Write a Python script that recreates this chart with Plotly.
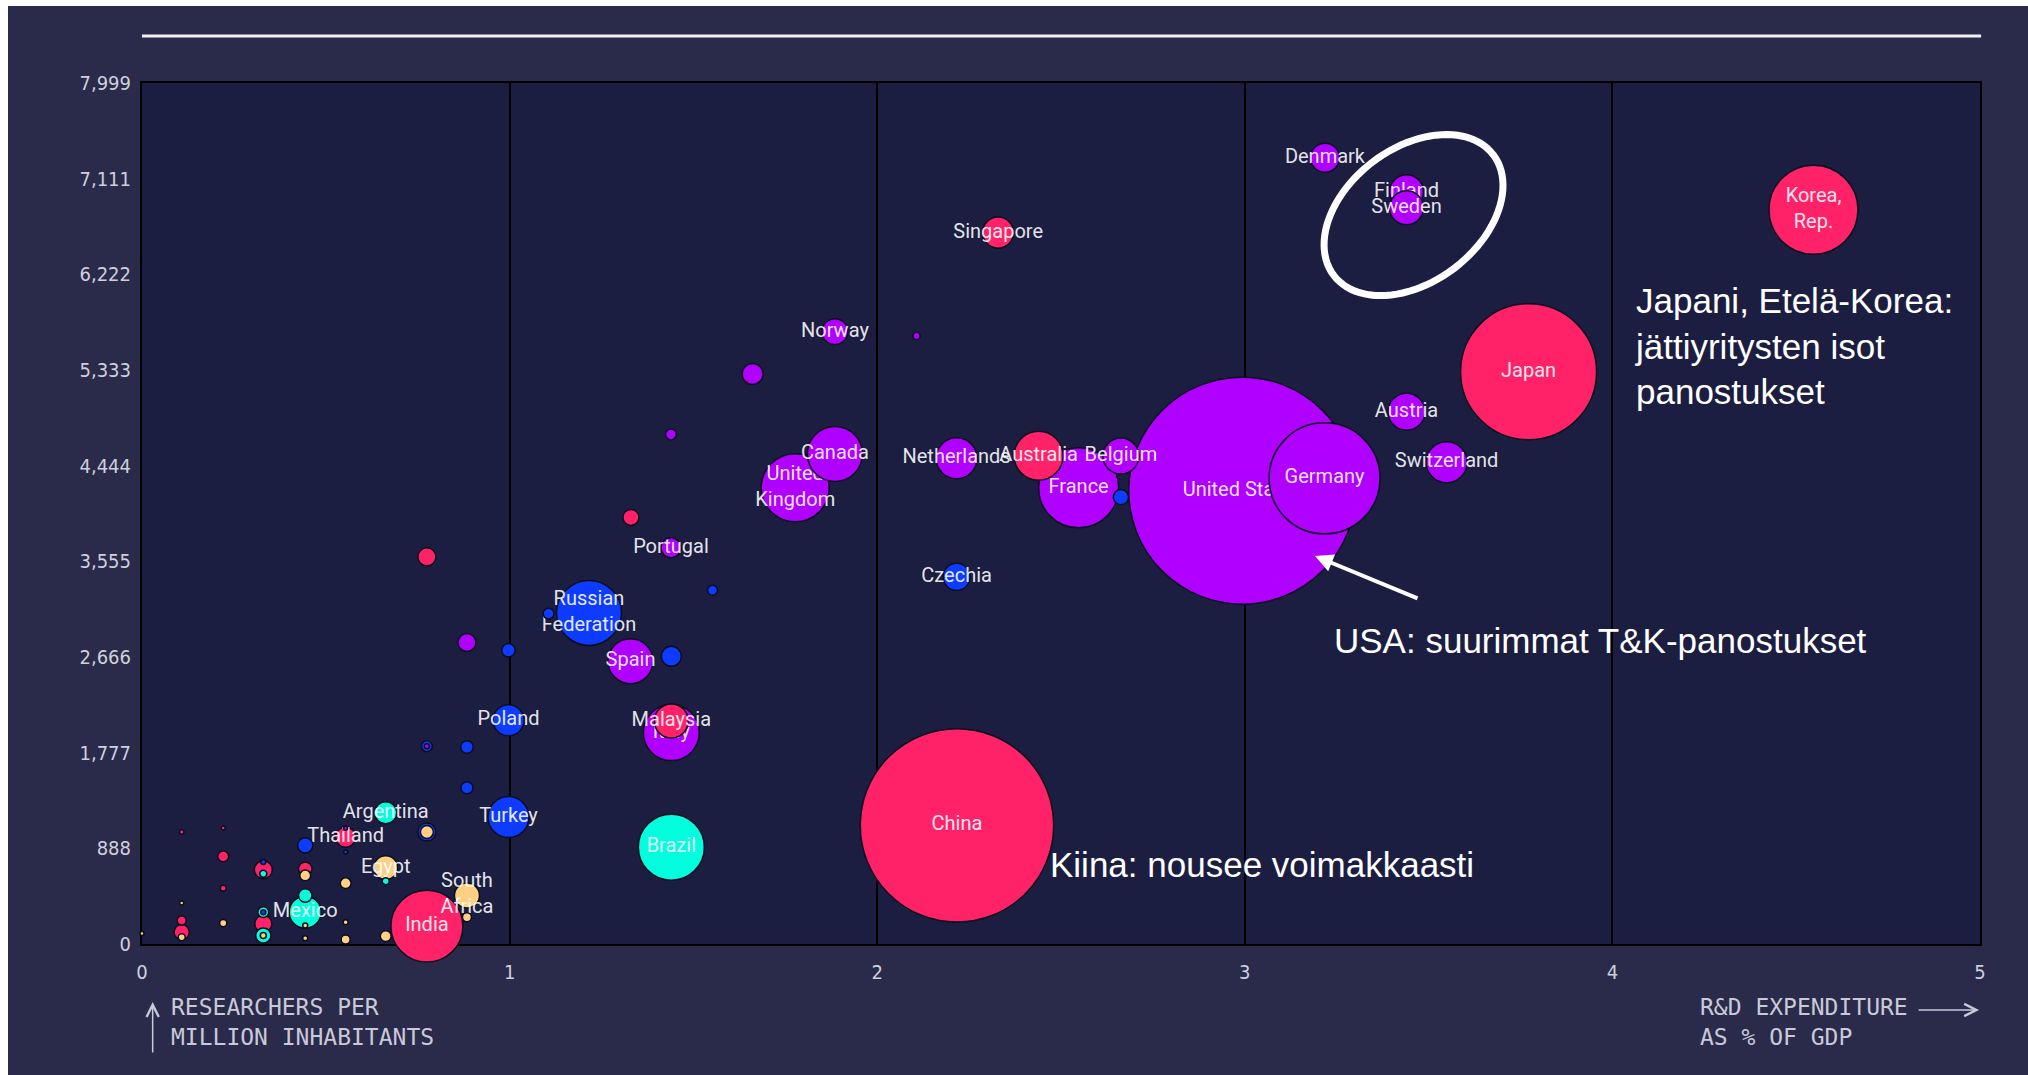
import numpy as np
import plotly.graph_objects as go

# ---------------- data ----------------
countries = [
    "Korea, Rep.", "Japan", "Denmark", "Finland", "Sweden", "Austria", "Switzerland",
    "Germany", "United States", "France", "Belgium", "Australia", "Netherlands",
    "Czechia", "Singapore", "Norway", "Canada", "United Kingdom", "Portugal",
    "Russian Federation", "Spain", "Italy", "Malaysia", "Poland", "Brazil", "China",
    "Turkey", "Argentina", "Thailand", "Egypt", "South Africa", "India", "Mexico",
    "u1", "u2", "u3", "u4", "u5", "u6", "u7", "u8", "u9", "u10", "u11", "u12", "u13",
    "u14", "u15", "u16", "u17", "u18", "u19", "u20", "u21", "u22", "u23", "u24", "u25",
    "u26", "u27", "u28", "u29", "u30", "u31", "u32", "u33", "u34", "u35", "u36", "u37",
    "u38", "u39", "u40", "u41", "u42", "u43", "u44", "u45", "u46", "u47", "u48", "u49",
]

labels = [
    "Korea,<br>Rep.", "Japan", "Denmark", "Finland", "Sweden", "Austria", "Switzerland",
    "Germany", "United States", "France", "Belgium", "Australia", "Netherlands",
    "Czechia", "Singapore", "Norway", "Canada", "United<br>Kingdom", "Portugal",
    "Russian<br>Federation", "Spain", "Italy", "Malaysia", "Poland", "Brazil", "China",
    "Turkey", "Argentina", "Thailand", "Egypt", "South<br>Africa", "India", "Mexico",
] + [""] * 49

rd_pct_gdp = [
    4.547, 3.772, 3.218, 3.440, 3.440, 3.440, 3.549,
    3.217, 2.993, 2.548, 2.663, 2.439, 2.216,
    2.216, 2.329, 1.885, 1.885, 1.777, 1.439,
    1.216, 1.329, 1.440, 1.440, 0.997, 1.440, 2.217,
    0.997, 0.663, 0.554, 0.663, 0.884, 0.775, 0.444,
    2.107, 1.661, 1.439, 1.330, 0.775, 1.552, 1.106, 0.884, 0.997, 1.440, 2.663,
    0.775, 0.775, 0.884, 0.884, 0.775, 0.775, 0.108, 0.221, 0.554, 0.554, 0.444,
    0.221, 0.330, 0.330, 0.330, 0.444, 0.444, 0.663, 0.554, 0.221, 0.884, 0.108,
    0.444, 0.330, 0.330, 0.330, 0.330, 0.330, 0.108, 0.108, 0.108, 0.221, 0.554,
    0.554, 0.663, 0.444, 0.000, 0.444, 0.444,
]

researchers_per_million = [
    6821, 5317, 7304, 6988, 6840, 4945, 4475,
    4326, 4212, 4238, 4533, 4536, 4512,
    3411, 6609, 5689, 4552, 4238, 3681,
    3076, 2627, 1964, 2072, 2078, 900, 1102,
    1179, 1220, 993, 709, 451, 166, 296,
    5649, 5296, 4735, 3963, 3597, 3287, 3070, 2801, 2729, 2673, 4152,
    1837, 1837, 1830, 1452, 1040, 1040, 1040, 1077, 1076, 854, 916,
    814, 690, 761, 653, 699, 637, 584, 565, 519, 249, 380,
    451, 296, 296, 188, 79, 79, 218, 110, 63, 194, 203,
    42, 73, 54, 98, 172, 380,
]

# bubble size: R&D spending (arbitrary units, area-proportional)
rd_spend = [
    84.5, 197.4, 9.0, 12.3, 12.3, 14.6, 17.9,
    131.5, 550.0, 68.3, 13.8, 25.6, 17.9,
    7.8, 10.3, 7.2, 32.3, 49.4, 4.3,
    45.1, 21.6, 33.5, 12.3, 10.3, 46.5, 399.2,
    17.9, 5.2, 4.3, 6.1, 6.7, 55.3, 10.9,
    0.55, 4.71, 1.25, 2.73, 3.46, 1.07, 1.25, 3.46, 1.92, 4.27, 2.47,
    1.25, 0.27, 1.69, 1.54, 3.46, 1.80, 0.21, 0.17, 0.17, 0.17, 2.47,
    1.25, 3.46, 0.27, 0.52, 1.92, 1.25, 0.52, 1.25, 0.38, 0.86, 0.17,
    1.92, 1.25, 0.27, 3.08, 2.47, 0.38, 0.86, 2.47, 0.52, 0.55, 0.27,
    0.86, 1.25, 0.27, 0.17, 0.27, 0.17,
]

regions = [
    "AP", "AP", "WE", "WE", "WE", "WE", "WE",
    "WE", "WE", "WE", "WE", "AP", "WE",
    "EE", "AP", "WE", "WE", "WE", "WE",
    "EE", "WE", "WE", "AP", "EE", "LA", "AP",
    "EE", "LA", "AP", "AF", "AF", "AP", "LA",
    "WE", "WE", "WE", "AP", "AP", "EE", "EE", "WE", "EE", "EE", "EE",
    "EE", "WE", "EE", "EE", "EE", "AF", "AP", "AP", "WE", "EE", "EE",
    "AP", "AP", "EE", "LA", "AP", "AF", "LA", "AF", "AP", "AF", "AF",
    "LA", "LA", "EE", "AP", "LA", "AF", "AP", "AP", "AF", "AF", "AF",
    "AF", "AF", "AF", "AF", "AF", "AF",
]

y_tick_values = [0, 888, 1777, 2666, 3555, 4444, 5333, 6222, 7111, 7999]
x_tick_values = [0, 1, 2, 3, 4, 5]

# ---------------- styling ----------------
region_colors = {
    "WE": "#b000ff",
    "AP": "#ff2268",
    "EE": "#0d3bff",
    "LA": "#00ffdc",
    "AF": "#ffd083",
}
PAPER = "#2a2b4b"
PLOT = "#1c1e41"
LABEL_FONT = "Roboto"
MONO = "DejaVu Sans Mono"
TICK_FONT = "Liberation Sans Narrow, DejaVu Sans Condensed, Arial Narrow, sans-serif"
ANN_FONT = "Liberation Sans"

US_RADIUS_PX = 113.5
sizeref = max(rd_spend) / (2 * US_RADIUS_PX ** 2)

fig = go.Figure()

order = sorted(range(len(countries)), key=lambda i: -rd_spend[i])
for i in order:
    fig.add_trace(go.Scatter(
        x=[rd_pct_gdp[i]], y=[researchers_per_million[i]],
        mode="markers+text" if labels[i] else "markers",
        text=[labels[i]],
        textposition="middle center",
        textfont=dict(family=LABEL_FONT, size=20, color="rgba(255,255,255,0.9)"),
        marker=dict(
            size=[rd_spend[i]], sizemode="area", sizeref=sizeref, sizemin=1.5,
            color=region_colors[regions[i]], opacity=1,
            line=dict(color="#0c0d1c", width=1.5),
        ),
        cliponaxis=False,
        hoverinfo="skip",
        showlegend=False,
    ))

# plot geometry (page pixels) for annotation placement
PX_W, PX_H = 1838.0, 861.0
x_per_px = 5.0 / PX_W
y_per_px = 7999.0 / PX_H

# ellipse around Finland / Sweden
cx, cy = 3.459, 6772
a, b, th = 100.0, 67.0, np.deg2rad(37)
t = np.linspace(0, 2 * np.pi, 97)
dx = a * np.cos(t) * np.cos(th) - b * np.sin(t) * np.sin(th)
dy = a * np.cos(t) * np.sin(th) + b * np.sin(t) * np.cos(th)
ex = cx + dx * x_per_px
ey = cy + dy * y_per_px
path = "M " + " L ".join(f"{px:.5f},{py:.2f}" for px, py in zip(ex, ey)) + " Z"

shapes = [
    dict(type="path", path=path, xref="x", yref="y",
         line=dict(color="white", width=7), fillcolor="rgba(0,0,0,0)", layer="above"),
    dict(type="line", xref="paper", yref="paper", x0=0, x1=1.0006,
         y0=1.0546, y1=1.0546, line=dict(color="#f2f2f2", width=3)),
]

ann_style = dict(family=ANN_FONT, size=35, color="white")
axis_title_font = dict(family=MONO, size=23, color="#c9c9d8")
annotations = [
    dict(x=4.057, y=5555, xref="x", yref="y", xanchor="left", yanchor="middle",
         align="left", showarrow=False, font=ann_style,
         text="Japani, Etelä-Korea:<br>jättiyritysten isot<br>panostukset"),
    dict(x=3.237, y=2824, xref="x", yref="y", xanchor="left", yanchor="middle",
         align="left", showarrow=False, font=ann_style,
         text="USA: suurimmat T&K-panostukset"),
    dict(x=2.465, y=743, xref="x", yref="y", xanchor="left", yanchor="middle",
         align="left", showarrow=False, font=ann_style,
         text="Kiina: nousee voimakkaasti"),
    dict(x=3.191, y=3605, xref="x", yref="y", ax=104, ay=43, text="",
         showarrow=True, arrowhead=2, arrowsize=0.9, arrowwidth=4, arrowcolor="white"),
    # axis titles
    dict(x=0.0147, y=-0.0906, xref="paper", yref="paper", xanchor="left",
         yanchor="middle", align="left", showarrow=False, font=axis_title_font,
         text="RESEARCHERS PER<br>MILLION INHABITANTS"),
    dict(x=0.0058, y=-0.0674, xref="paper", yref="paper", ax=0, ay=52, text="",
         showarrow=True, arrowhead=5, arrowsize=1.6, arrowwidth=1.5, arrowcolor="#c9c9d8"),
    dict(x=0.8466, y=-0.0906, xref="paper", yref="paper", xanchor="left",
         yanchor="middle", align="left", showarrow=False, font=axis_title_font,
         text="R&D EXPENDITURE<br>AS % OF GDP"),
    dict(x=0.9995, y=-0.0767, xref="paper", yref="paper", ax=-62, ay=0, text="",
         showarrow=True, arrowhead=5, arrowsize=1.6, arrowwidth=1.5, arrowcolor="#c9c9d8"),
]

fig.update_layout(
    width=2028, height=1075,
    margin=dict(l=134, r=56, t=77, b=137, pad=0),
    paper_bgcolor=PAPER, plot_bgcolor=PLOT,
    showlegend=False,
    shapes=shapes, annotations=annotations,
    xaxis=dict(
        range=[0, 5], tickvals=x_tick_values, ticktext=[str(v) for v in x_tick_values],
        showgrid=True, gridcolor="#000000", gridwidth=1.5, zeroline=False,
        showline=True, linecolor="#000000", linewidth=2, mirror=True,
        ticks="", ticklabelstandoff=9, layer="below traces",
        tickfont=dict(family=TICK_FONT, size=20, color="#d0d0dc"),
    ),
    yaxis=dict(
        range=[0, 7999], tickvals=y_tick_values,
        ticktext=[f"{v:,}" for v in y_tick_values],
        showgrid=False, zeroline=False,
        showline=True, linecolor="#000000", linewidth=2, mirror=True,
        ticks="", ticklabelstandoff=5, layer="below traces",
        tickfont=dict(family=TICK_FONT, size=20, color="#d0d0dc"),
    ),
)

fig.write_html(
    "out.html",
    post_script="document.body.style.margin='6px 0 0 8px';document.body.style.overflow='hidden';",
)
